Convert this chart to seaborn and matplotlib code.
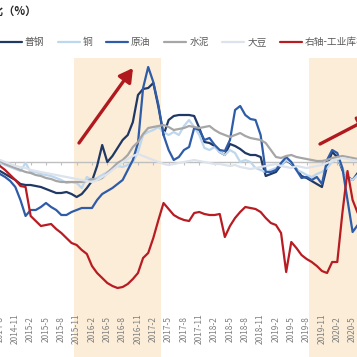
import numpy as np
import pandas as pd
import matplotlib
matplotlib.use("Agg")
import matplotlib.pyplot as plt
import seaborn as sns
from matplotlib.lines import Line2D
from matplotlib.patches import FancyArrowPatch

# ---------------- data ----------------
months = [f"{p.year}-{p.month}" for p in pd.period_range("2014-07", "2020-06", freq="M")]

steel = [-6, -9, -12, -15,
         -18, -22, -23, -23, -24, -25, -27, -29, -31, -31,
         -30, -32, -35, -32, -26, -19, -4, 17, 0, 6,
         14, 22, 27, 40, 67, 73, 74, 79, 55, 27,
         42, 46, 47, 47, 47, 46, 34, 20, 19, 16,
         10, 7, 18, 16, 13, 9, 7, 7, 5, -14,
         -12, -10, -3, 2, -2, -7, -14, -16, -19, -22,
         -25, -4, 10, 5, -8, -15, -18, -11]
copper = [2, -1, -3, -5,
          -7, -9, -1, -10, -10, -12, -13, -14, -16, -18,
          -21, -20, -21, -26, -15, -18, -16, -13, -10, -7,
          -4, -5, -3, 0, 10, 27, 30, 32, 35, 30,
          27, 30, 27, 36, 42, 35, 27, 14, 12, 15,
          10, 7, 12, 9, 0, 2, 0, -6, -8, -10,
          -8, -6, -3, 2, -1, -8, -10, -13, -15, -12,
          -10, -6, 0, 4, -6, -16, -18, -13]
crude = [-8, -12, -15, -19,
         -25, -38, -54, -48, -48, -45, -41, -45, -48, -53,
         -53, -50, -48, -46, -46, -46, -38, -32, -29, -26,
         -22, -18, -8, 2, 19, 74, 95, 80, 57, 27,
         12, 2, 5, 12, 15, 34, 32, 22, 24, 17,
         12, 11, 22, 52, 56, 47, 43, 42, 27, -10,
         -10, -8, -1, 5, 0, -8, -16, -15, -18, -15,
         -22, 2, 12, 9, -6, -38, -70, -63]
cement = [2, 1, -2, -4,
          -6, -8, -10, -11, -13, -14, -16, -17, -19, -20,
          -20, -20, -20, -20, -19, -17, -18, -16, -11, -6,
          -1, 2, 7, 15, 20, 28, 34, 35, 36, 37,
          35, 32, 33, 34, 36, 35, 34, 35, 36, 32,
          29, 27, 25, 27, 29, 26, 24, 23, 22, 19,
          12, 5, 4, 6, 7, 5, 4, 3, 2, 1,
          1, 2, 4, 5, 6, 5, 4, 3]
soybean = [4, 2, 0, -2,
           -4, -5, -6, -8, -9, -10, -11, -12, -13, -14,
           -15, -16, -17, -18, -19, -20, -18, -15, -12, -8,
           -4, 0, 3, 6, 8, 6, 4, 2, 0, -2,
           -3, -2, -1, 0, 1, 2, 1, 0, -1, -2,
           -2, -3, -4, -3, -5, -6, -7, -6, -5, -4,
           -3, -2, -4, -5, -6, -4, -5, -6, -5, -4,
           -3, -1, 1, 3, 4, 3, 2, 1]
inventory = [13.7, 13.4, 13.0, 12.5,
             12.0, 11.4, 11.3, 8.4, 7.9, 7.4, 7.5, 7.6, 7.1, 6.7,
             6.2, 5.7, 5.5, 5.0, 4.6, 3.4, 2.7, 2.2, 1.7, 1.4,
             1.2, 1.3, 1.6, 2.1, 2.7, 4.2, 4.7, 6.2, 8.0, 9.7,
             9.1, 8.5, 8.2, 8.0, 7.9, 8.7, 8.8, 8.6, 8.5, 8.5,
             8.6, 6.3, 7.4, 8.2, 8.8, 9.3, 9.2, 9.1, 8.8, 8.2,
             7.7, 7.5, 6.7, 2.8, 5.8, 5.2, 4.5, 4.1, 3.8, 3.4,
             2.9, 2.7, 3.8, 3.8, 8.7, 12.9, 10.0, 8.7]

series_names = ["普钢", "铜", "原油", "水泥", "大豆"]
red_name = "右轴-工业库存同比"
tick_labels = ["2014-8", "2014-11", "2015-2", "2015-5", "2015-8", "2015-11",
               "2016-2", "2016-5", "2016-8", "2016-11", "2017-2", "2017-5",
               "2017-8", "2017-11", "2018-2", "2018-5", "2018-8", "2018-11",
               "2019-2", "2019-5", "2019-8", "2019-11", "2020-2", "2020-5"]
shade_periods = [("2015-11", "2017-3"), ("2019-9", "2020-6")]

colors = {"普钢": "#1F3864", "铜": "#BDD7EE", "原油": "#2E5CA8",
          "水泥": "#A6A6A6", "大豆": "#DCE3EC"}
red_color = "#B81C22"

# ---------------- frame ----------------
idx = np.arange(len(months))
wide = pd.DataFrame({"idx": idx, "普钢": steel, "铜": copper, "原油": crude,
                     "水泥": cement, "大豆": soybean})
long = wide.melt(id_vars="idx", var_name="品种", value_name="同比")

sns.set_theme(style="white")
plt.rcParams["font.family"] = ["Noto Sans CJK SC", "DejaVu Sans"]

fig = plt.figure(figsize=(3.57, 3.57), dpi=100)
ax = fig.add_axes([0, 0, 1, 1 - 58 / 357])

for s, e in shade_periods:
    ax.axvspan(months.index(s) - 0.5, months.index(e) + 0.5,
               color="#FCEDD8", lw=0, zorder=0)

sns.lineplot(data=long, x="idx", y="同比", hue="品种", hue_order=series_names,
             palette=colors, linewidth=1.6, ax=ax, legend=False, sort=False)

ax2 = ax.twinx()
sns.lineplot(x=idx, y=inventory, color=red_color, linewidth=1.6, ax=ax2, legend=False)

ax.set_xlim(1.271, 70.86)
ax.set_ylim(-195, 104)
ax2.set_ylim(-5.7, 24.2)

for a in (ax, ax2):
    for sp in a.spines.values():
        sp.set_visible(False)
    a.set_yticks([])
    a.set_xlabel("")
    a.set_ylabel("")
ax.patch.set_alpha(0)

ax.spines["bottom"].set_visible(True)
ax.spines["bottom"].set_position(("data", 0))
ax.spines["bottom"].set_color("#BFBFBF")
ax.spines["bottom"].set_linewidth(1.0)
ax.spines["bottom"].set_zorder(1.5)

ax.set_xticks([months.index(t) for t in tick_labels])
ax.set_xticklabels(tick_labels, rotation=90, fontsize=6, color="#808080")
ax.tick_params(axis="x", bottom=True, length=2.5, width=0.8, color="#BFBFBF",
               direction="out", pad=117.5)
for lbl in ax.get_xticklabels():
    lbl.set_va("center")

# ---------------- legend ----------------
handles = [Line2D([], [], color=colors[n], lw=1.6) for n in series_names]
handles.append(Line2D([], [], color=red_color, lw=1.6))
fig.legend(handles, series_names + [red_name], loc="center left",
           bbox_to_anchor=(0.0, 1 - 42 / 357), ncol=6, frameon=False,
           fontsize=7, handlelength=2.26, handletextpad=0.3,
           columnspacing=1.4, borderpad=0, borderaxespad=0,
           labelcolor="#595959")

# ---------------- title ----------------
fig.text(36 / 357, 1 - 11 / 357, "同比（%）", ha="right", va="center",
         fontsize=8, fontweight="bold", color="#262626")

# ---------------- arrows ----------------
def fp(x, y):
    return (x / 357, 1 - y / 357)

for (x0, y0), (x1, y1) in [((79, 143), (133, 68)), ((320, 144), (372, 117))]:
    arr = FancyArrowPatch(fp(x0, y0), fp(x1, y1), transform=fig.transFigure,
                          arrowstyle="-|>,head_length=0.8,head_width=0.45",
                          mutation_scale=10, lw=2.4, color="#B01A1F",
                          shrinkA=0, shrinkB=0)
    fig.add_artist(arr)

fig.savefig("out.png", dpi=100)
